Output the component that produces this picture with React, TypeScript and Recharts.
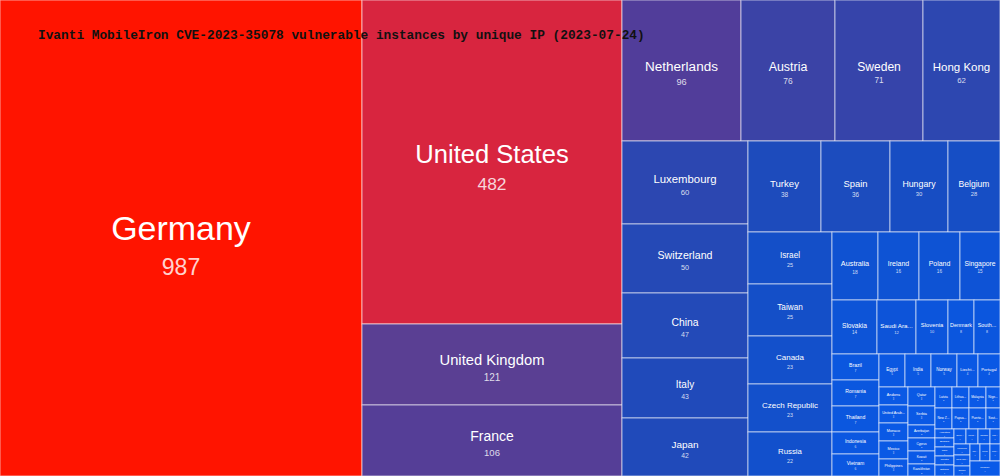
import { Treemap } from "recharts";

const countries = [
  "Germany", "United States", "United Kingdom", "France", "Netherlands",
  "Austria", "Sweden", "Hong Kong", "Luxembourg", "Switzerland",
  "China", "Italy", "Japan", "Turkey", "Spain",
  "Hungary", "Belgium", "Israel", "Taiwan", "Canada",
  "Czech Republic", "Russia", "Australia", "Ireland", "Poland",
  "Singapore", "Slovakia", "Saudi Arabia", "Slovenia", "Denmark",
  "South Korea", "Brazil", "Romania", "Thailand", "Indonesia",
  "Vietnam", "Egypt", "India", "Norway", "Liechtenstein",
  "Portugal", "Andorra", "United Arab Emirates", "Monaco", "Mexico",
  "Philippines", "Qatar", "Serbia", "Azerbaijan", "Cyprus",
  "Kuwait", "Kazakhstan", "Latvia", "Lithuania", "Malaysia",
  "Nigeria", "New Zealand", "Papua New Guinea", "Puerto Rico", "South Africa",
  "Argentina", "Bulgaria", "Chile", "Croatia", "Estonia",
  "Greece", "Iceland", "Jordan", "Malta", "Morocco",
  "New Caledonia", "Oman", "Pakistan", "Peru", "Ukraine",
  "Uruguay",
];

const instances = [
  987, 482, 121, 106, 96,
  76, 71, 62, 60, 50,
  47, 43, 42, 38, 36,
  30, 28, 25, 25, 23,
  23, 22, 18, 16, 16,
  15, 14, 12, 10, 8,
  8, 7, 7, 7, 6,
  6, 5, 5, 5, 4,
  4, 3, 3, 3, 3,
  3, 3, 3, 2, 2,
  2, 2, 2, 2, 2,
  2, 2, 2, 2, 2,
  1, 1, 1, 1, 1,
  1, 1, 1, 1, 1,
  1, 1, 1, 1, 1,
  1,
];

const data = countries.map((name, i) => ({ name, size: instances[i] }));

// colour stops, value -> hex
const colorStops: [number, string][] = [
  [1, "#0a5ae8"],
  [8, "#0b56de"],
  [18, "#0f52d2"],
  [25, "#144fc8"],
  [38, "#1d4bbc"],
  [62, "#2d47b0"],
  [76, "#3b43a6"],
  [96, "#513d9a"],
  [121, "#5a3f93"],
  [482, "#d8253f"],
  [987, "#ff1400"],
];

function hexToRgb(h: string) {
  return [1, 3, 5].map((i) => parseInt(h.slice(i, i + 2), 16));
}

function colorFor(v: number) {
  for (let i = 0; i < colorStops.length - 1; i++) {
    const [v0, c0] = colorStops[i];
    const [v1, c1] = colorStops[i + 1];
    if (v <= v1) {
      const t = Math.max(0, (v - v0) / (v1 - v0));
      const a = hexToRgb(c0);
      const b = hexToRgb(c1);
      const m = a.map((x, k) => Math.round(x + (b[k] - x) * t));
      return `rgb(${m[0]},${m[1]},${m[2]})`;
    }
  }
  return colorStops[colorStops.length - 1][1];
}

// rough Arial advance widths (em)
function charWidth(c: string) {
  if ("ijl'".includes(c)) return 0.222;
  if ("tfI. ".includes(c)) return 0.278;
  if (c === "r") return 0.333;
  if ("mM".includes(c)) return 0.833;
  if (c === "W") return 0.944;
  if ("wCDGHNOQRUw".includes(c)) return 0.722;
  if ("kvxyzJ".includes(c)) return 0.5;
  if (c >= "A" && c <= "Z") return 0.667;
  return 0.556;
}

function textWidth(s: string, fs: number) {
  let w = 0;
  for (const c of s) w += charWidth(c);
  return w * fs;
}

function fitLabel(name: string, fontSize: number, width: number) {
  const avail = width - 4;
  if (textWidth(name, fontSize) <= avail) return name;
  let n = name.length - 1;
  while (n > 1 && textWidth(name.slice(0, n).trimEnd() + "...", fontSize) > avail) n--;
  return name.slice(0, n).trimEnd() + "...";
}

function Cell(props: any) {
  const { x, y, width, height, name, value, depth } = props;
  if (depth !== 1) return null;
  const fs = Math.max(2.5 * Math.pow(value, 0.37), 2.2 * Math.pow(value, 0.397));
  const cx = x + width / 2;
  const cy = y + height / 2;
  return (
    <g>
      <rect
        x={x}
        y={y}
        width={width}
        height={height}
        fill={colorFor(value)}
        stroke="rgba(255,255,255,0.6)"
        strokeWidth={1}
      />
      <text
        x={cx}
        y={cy - fs * 0.3}
        textAnchor="middle"
        dominantBaseline="central"
        fill="#ffffff"
        fontSize={fs}
        fontFamily="Liberation Sans, Arial, sans-serif"
      >
        {fitLabel(name, fs, width)}
      </text>
      <text
        x={cx}
        y={cy + fs * 0.85}
        textAnchor="middle"
        dominantBaseline="central"
        fill="rgba(255,255,255,0.82)"
        fontSize={fs * 0.68}
        fontFamily="Liberation Sans, Arial, sans-serif"
      >
        {value}
      </text>
    </g>
  );
}

export default function App() {
  return (
    <div style={{ position: "absolute", left: 0, top: 0, width: 1000, height: 476, background: "#fff" }}>
      <Treemap
        width={1000}
        height={476}
        data={data}
        dataKey="size"
        nameKey="name"
        isAnimationActive={false}
        content={<Cell />}
      />
      <div
        style={{
          position: "absolute",
          left: 38,
          top: 28,
          fontFamily: "Liberation Mono, Courier New, monospace",
          fontWeight: "bold",
          fontSize: 12.8,
          color: "#111",
          whiteSpace: "nowrap",
          pointerEvents: "none",
        }}
      >
        Ivanti MobileIron CVE-2023-35078 vulnerable instances by unique IP (2023-07-24)
      </div>
    </div>
  );
}
